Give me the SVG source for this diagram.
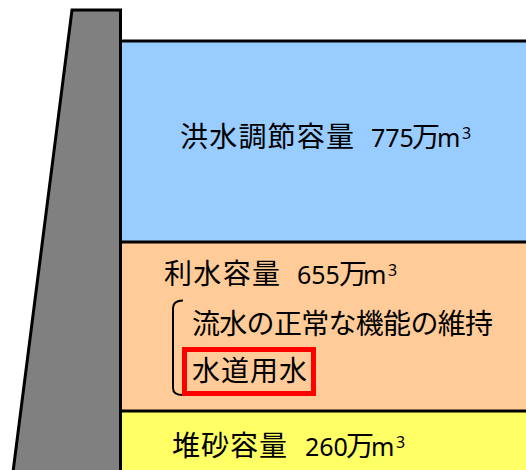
<svg xmlns="http://www.w3.org/2000/svg" width="526" height="470" viewBox="0 0 526 470">
<style>
.t{font-family:"Noto Sans CJK JP","Noto Sans",sans-serif;fill:#000}
.k{font-size:28px}
.d{font-size:25px;font-family:"Noto Sans","Noto Sans CJK JP",sans-serif}
.s{font-size:16px;font-family:"Noto Sans","Noto Sans CJK JP",sans-serif}
.edge{stroke:#000;stroke-width:3;fill:none}
</style>
<rect width="526" height="470" fill="#fff"/>
<g id="flood-control">
<rect x="120.5" y="41" width="406" height="201" fill="#99CCFF"/>
<text class="t"><tspan class="k" x="180" y="147" textLength="174" lengthAdjust="spacing">洪水調節容量</tspan><tspan class="d" x="371" y="147">775</tspan><tspan class="k" x="412" y="147">万</tspan><tspan class="d" x="437" y="147">m</tspan></text>
<text class="t s" x="462" y="139">3</text>
</g>
<g id="water-use">
<rect x="120.5" y="242" width="406" height="169" fill="#FFCC99"/>
<text class="t"><tspan class="k" x="164" y="284" textLength="116" lengthAdjust="spacing">利水容量</tspan><tspan class="d" x="297" y="284">655</tspan><tspan class="k" x="339" y="284">万</tspan><tspan class="d" x="363" y="284">m</tspan></text>
<text class="t s" x="388" y="276">3</text>
<path d="M183,300.5 Q173,300.5 173,308 L173,388 Q173,395 183,395" fill="none" stroke="#000" stroke-width="2"/>
<text class="t k" x="192" y="334" textLength="301" lengthAdjust="spacing">流水の正常な機能の維持</text>
<text class="t k" x="192" y="381" textLength="115" lengthAdjust="spacing">水道用水</text>
<rect x="184.5" y="349.5" width="129" height="44" fill="none" stroke="#FF0000" stroke-width="5"/>
</g>
<g id="sediment">
<rect x="120.5" y="411" width="406" height="60" fill="#FFFF66"/>
<text class="t"><tspan class="k" x="172" y="456" textLength="115" lengthAdjust="spacing">堆砂容量</tspan><tspan class="d" x="305" y="456">260</tspan><tspan class="k" x="346" y="456">万</tspan><tspan class="d" x="371" y="456">m</tspan></text>
<text class="t s" x="396" y="448">3</text>
</g>
<g id="dam">
<polygon points="72,10 120.5,10 120.5,472 13,472" fill="#808080" stroke="#000" stroke-width="3" stroke-linejoin="miter"/>
</g>
<g id="connectors">
<line class="edge" x1="120" y1="41" x2="526" y2="41"/>
<line class="edge" x1="120" y1="242" x2="526" y2="242"/>
<line class="edge" x1="120" y1="411" x2="526" y2="411"/>
</g>
</svg>
